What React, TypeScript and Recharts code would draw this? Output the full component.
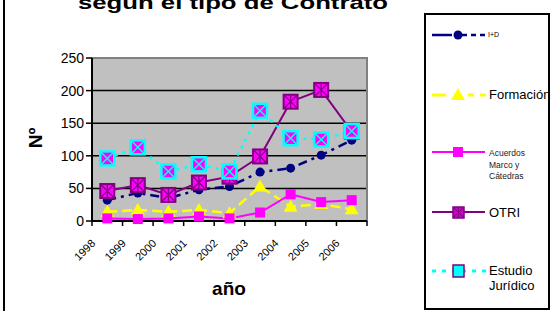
import React from 'react';
import { LineChart, Line, XAxis, YAxis, CartesianGrid, ReferenceArea } from 'recharts';

// datos
const years = ['1998', '1999', '2000', '2001', '2002', '2003', '2004', '2005', '2006'];
const idValues = [32, 43, 35, 48, 53, 75, 81, 101, 124];
const formacionValues = [14, 17, 14, 17, 12, 53, 22, 26, 18];
const acuerdosValues = [4, 3, 4, 7, 4, 13, 41, 29, 32];
const otriValues = [46, 55, 40, 59, 68, 99, 183, 201, 137];
const estudioValues = [96, 113, 76, 87, 76, 169, 127, 125, 138];
const yTicks = [0, 50, 100, 150, 200, 250];
const xBounds = [0, 1, 2, 3, 4, 5, 6, 7, 8, 9];

const data = years.map((year, i) => ({
  x: i + 0.5,
  year,
  id: idValues[i],
  formacion: formacionValues[i],
  acuerdos: acuerdosValues[i],
  otri: otriValues[i],
  estudio: estudioValues[i],
}));

const FONT = 'Arial, "Liberation Sans", sans-serif';
const NAVY = '#000080';
const YELLOW = '#FFFF00';
const MAGENTA = '#FF00FF';
const PURPLE = '#800080';
const CYAN = '#00FFFF';

const CircleDot = (p: any) => <circle key={p.index} cx={p.cx} cy={p.cy} r={4.5} fill={NAVY} />;

const TriangleDot = (p: any) => (
  <polygon
    key={p.index}
    points={`${p.cx},${p.cy - 7} ${p.cx - 7},${p.cy + 5} ${p.cx + 7},${p.cy + 5}`}
    fill={YELLOW}
  />
);

const SquareDot = (p: any) => (
  <rect key={p.index} x={p.cx - 5} y={p.cy - 5} width={10} height={10} fill={MAGENTA} />
);

const StarSquare = (p: any) => {
  const s = 7;
  return (
    <g key={p.index}>
      <rect x={p.cx - s} y={p.cy - s} width={2 * s} height={2 * s} fill={MAGENTA} stroke={PURPLE} strokeWidth={2} />
      <path
        d={`M${p.cx - s},${p.cy - s}L${p.cx + s},${p.cy + s}M${p.cx + s},${p.cy - s}L${p.cx - s},${p.cy + s}M${p.cx},${p.cy - s}L${p.cx},${p.cy + s}`}
        stroke={PURPLE}
        strokeWidth={1.2}
      />
    </g>
  );
};

const CrossSquare = (p: any) => {
  const s = 7;
  return (
    <g key={p.index}>
      <rect x={p.cx - s} y={p.cy - s} width={2 * s} height={2 * s} fill={MAGENTA} stroke={CYAN} strokeWidth={2.5} />
      <path
        d={`M${p.cx - s},${p.cy - s}L${p.cx + s},${p.cy + s}M${p.cx + s},${p.cy - s}L${p.cx - s},${p.cy + s}`}
        stroke={CYAN}
        strokeWidth={1.5}
      />
    </g>
  );
};

const YearTick = (props: any) => {
  const { x, y, payload } = props;
  const label = years[payload.value];
  if (!label) return <g />;
  const ax = x + 4;
  const ay = y + 18;
  return (
    <text
      x={ax}
      y={ay}
      transform={`rotate(-45 ${ax} ${ay})`}
      textAnchor="end"
      fontSize={11}
      fontFamily={FONT}
      fill="#000"
    >
      {label}
    </text>
  );
};

const LegendBox = () => (
  <div
    style={{
      position: 'absolute',
      left: 424,
      top: 13,
      width: 126,
      height: 297,
      border: '2px solid #000',
      boxSizing: 'border-box',
    }}
  />
);

const LegendSymbols = () => (
  <svg width={551} height={311} style={{ position: 'absolute', left: 0, top: 0 }}>
    {/* I+D */}
    <line x1={432} y1={35} x2={452} y2={35} stroke={NAVY} strokeWidth={2.5} />
    <line x1={462} y1={35} x2={485} y2={35} stroke={NAVY} strokeWidth={2.5} strokeDasharray="5 4" />
    <circle cx={458} cy={35} r={4.5} fill={NAVY} />
    <text x={488} y={37} fontSize={7} fontFamily={FONT}>I+D</text>
    {/* Formación */}
    <line x1={432} y1={95} x2={446} y2={95} stroke={YELLOW} strokeWidth={3} />
    <line x1={468} y1={95} x2={486} y2={95} stroke={YELLOW} strokeWidth={3} strokeDasharray="6 6" />
    <polygon points="458,88 451,100 465,100" fill={YELLOW} />
    <text x={489} y={99} fontSize={13} fontFamily={FONT}>Formación</text>
    {/* Acuerdos */}
    <line x1={432} y1={152} x2={485} y2={152} stroke={MAGENTA} strokeWidth={2} />
    <rect x={453} y={147} width={10} height={10} fill={MAGENTA} />
    <text fontSize={8.5} fontFamily={FONT} fill="#222">
      <tspan x={489} y={156}>Acuerdos</tspan>
      <tspan x={489} y={168}>Marco y</tspan>
      <tspan x={489} y={179}>Cátedras</tspan>
    </text>
    {/* OTRI */}
    <line x1={432} y1={212} x2={485} y2={212} stroke={PURPLE} strokeWidth={2} />
    <rect x={453} y={207} width={11} height={11} fill="#cc00cc" stroke={PURPLE} strokeWidth={1.5} />
    <path d="M453,207L464,218M464,207L453,218M458.5,207L458.5,218" stroke={PURPLE} strokeWidth={1} />
    <text x={489} y={217} fontSize={13} fontFamily={FONT}>OTRI</text>
    {/* Estudio Jurídico */}
    <line x1={432} y1={271} x2={486} y2={271} stroke={CYAN} strokeWidth={3} strokeDasharray="4 6" />
    <rect x={453} y={265} width={11} height={12} fill={CYAN} stroke={PURPLE} strokeWidth={1.5} />
    <text fontSize={13} fontFamily={FONT}>
      <tspan x={489} y={275}>Estudio</tspan>
      <tspan x={489} y={290}>Jurídico</tspan>
    </text>
  </svg>
);

const Labels = () => (
  <svg width={551} height={311} style={{ position: 'absolute', left: 0, top: 0, pointerEvents: 'none' }}>
    <line x1={4} y1={0} x2={4} y2={311} stroke="#000" strokeWidth={2} />
    <text x={78} y={9} fontSize={19} fontWeight="bold" fontFamily={FONT} textLength={310} lengthAdjust="spacingAndGlyphs">
      según el tipo de Contrato
    </text>
    <text x={42} y={138} fontSize={19} fontWeight="bold" fontFamily={FONT} textAnchor="middle" transform="rotate(-90 42 138)">
      Nº
    </text>
    <text x={229} y={295} fontSize={19} fontWeight="bold" fontFamily={FONT} textAnchor="middle">
      año
    </text>
  </svg>
);

export default function App() {
  return (
    <div
      style={{
        position: 'absolute',
        left: 0,
        top: 0,
        width: 551,
        height: 311,
        background: '#fff',
        fontFamily: FONT,
        overflow: 'hidden',
      }}
    >
      <LineChart width={551} height={311} data={data} margin={{ top: 58, right: 184, bottom: 60, left: 32 }}>
        <CartesianGrid
          vertical={false}
          horizontalValues={[50, 100, 150, 200]}
          stroke="#000"
          strokeWidth={1.5}
          fill="#C0C0C0"
          fillOpacity={1}
        />
        <ReferenceArea x1={0} x2={9} y1={0} y2={250} fill="none" stroke="#808080" strokeWidth={2} />
        <XAxis
          dataKey="x"
          type="number"
          domain={[0, 9]}
          ticks={xBounds}
          interval={0}
          height={30}
          tickSize={5}
          tickMargin={0}
          axisLine={{ stroke: '#000', strokeWidth: 2 }}
          tickLine={{ stroke: '#000', strokeWidth: 1.5 }}
          tick={<YearTick />}
        />
        <YAxis
          type="number"
          domain={[0, 250]}
          ticks={yTicks}
          interval={0}
          width={60}
          tickSize={6}
          tickMargin={2}
          axisLine={{ stroke: '#000', strokeWidth: 2 }}
          tickLine={{ stroke: '#000', strokeWidth: 1.5 }}
          tick={{ fill: '#000', fontSize: 14, fontFamily: FONT }}
        />
        <Line
          dataKey="id"
          stroke={NAVY}
          strokeWidth={2.5}
          strokeDasharray="9 5 3 5"
          dot={CircleDot}
          isAnimationActive={false}
        />
        <Line
          dataKey="formacion"
          stroke={YELLOW}
          strokeWidth={2.5}
          strokeDasharray="10 5"
          dot={TriangleDot}
          isAnimationActive={false}
        />
        <Line dataKey="acuerdos" stroke={MAGENTA} strokeWidth={2} dot={SquareDot} isAnimationActive={false} />
        <Line dataKey="otri" stroke={PURPLE} strokeWidth={2} dot={StarSquare} isAnimationActive={false} />
        <Line
          dataKey="estudio"
          stroke={CYAN}
          strokeWidth={2.5}
          strokeDasharray="3 5"
          dot={CrossSquare}
          isAnimationActive={false}
        />
      </LineChart>
      <LegendBox />
      <LegendSymbols />
      <Labels />
    </div>
  );
}
